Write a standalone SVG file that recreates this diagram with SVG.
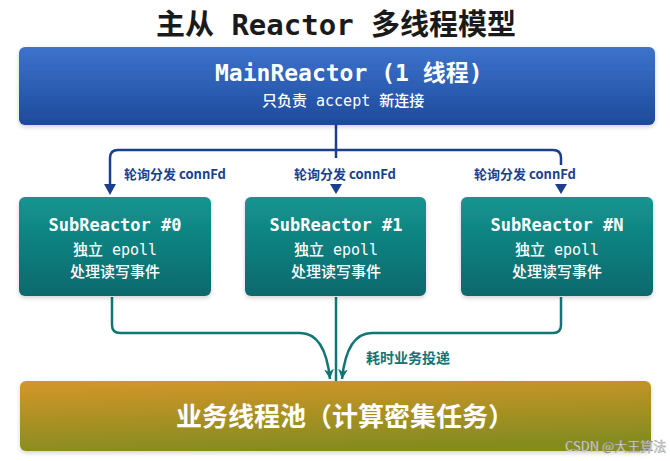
<svg xmlns="http://www.w3.org/2000/svg" width="670" height="461" viewBox="0 0 670 461">
<defs>
<linearGradient id="gMain" x1="0" y1="0" x2="0" y2="1"><stop offset="0" stop-color="#3d73cd"/><stop offset="1" stop-color="#1d4a9b"/></linearGradient>
<linearGradient id="gSub" x1="0" y1="0" x2="0" y2="1"><stop offset="0" stop-color="#149590"/><stop offset="1" stop-color="#0a686c"/></linearGradient>
<linearGradient id="gPool" x1="0" y1="0" x2="0.25" y2="1"><stop offset="0" stop-color="#d5962a"/><stop offset="1" stop-color="#868c1f"/></linearGradient>
<filter id="sh" x="-5%" y="-10%" width="110%" height="130%"><feDropShadow dx="0" dy="2" stdDeviation="2" flood-color="#000" flood-opacity="0.18"/></filter>
<marker id="aTeal" viewBox="0 0 10 12" refX="10" refY="5" markerWidth="10" markerHeight="12" markerUnits="userSpaceOnUse" orient="auto"><path d="M0,0 L10,5 L0,10 L3,5 Z" fill="#127575"/></marker>
</defs>
<style>
.mono{font-family:"DejaVu Sans Mono","Noto Sans CJK SC",monospace;fill:#fff;font-weight:bold}
.sub{font-family:"DejaVu Sans Mono","Noto Sans CJK SC",monospace;fill:#fff;font-weight:500}
.lbl{font-family:"Noto Sans CJK SC","DejaVu Sans",sans-serif;font-weight:bold;font-size:13px;fill:#1b3f8c}
.blue{fill:none;stroke:#1b3f8c;stroke-width:2.5}
.teal{fill:none;stroke:#127575;stroke-width:2.5}
.ah{fill:#1b3f8c}
</style>
<rect width="670" height="461" fill="#ffffff"/>
<text x="336" y="35" text-anchor="middle" font-family="DejaVu Sans Mono,Noto Sans CJK SC,monospace" font-weight="bold" font-size="29" fill="#1a1a1a">主从 Reactor 多线程模型</text>

<g id="connectors">
<path class="blue" d="M336,125 V158"/>
<path class="blue" d="M110,186 V158 Q110,150 118,150 H553 Q561,150 561,158 V165"/>
<path class="ah" d="M104,184 L116,184 L110,195 Z"/>
<path class="ah" d="M330,184 L342,184 L336,194 Z"/>
<path class="ah" d="M555,184 L567,184 L561,194 Z"/>
<text class="lbl" x="124" y="179">轮询分发 connFd</text>
<text class="lbl" x="294" y="179">轮询分发 connFd</text>
<text class="lbl" x="474" y="179">轮询分发  connFd</text>

<path class="teal" d="M112,297 V325 Q112,333 120,333 H300 C318,333 327,350 330,379" marker-end="url(#aTeal)"/>
<path class="teal" d="M336,297 V381"/>
<path class="teal" d="M561,297 V325 Q561,333 553,333 H372 C354,333 345,350 342,379" marker-end="url(#aTeal)"/>
<text x="366" y="363" font-family="Noto Sans CJK SC,sans-serif" font-weight="bold" font-size="14" fill="#127575">耗时业务投递</text>
</g>

<g id="main-reactor">
<rect x="19" y="47" width="636" height="78" rx="6" fill="url(#gMain)" filter="url(#sh)"/>
<text class="mono" x="215" y="81" font-size="23">MainReactor (1 线程)</text>
<text class="sub" x="262" y="106" font-size="15">只负责 accept 新连接</text>
</g>

<g id="sub-reactor-0">
<rect x="19" y="197" width="192" height="99" rx="6" fill="url(#gSub)" filter="url(#sh)"/>
<text class="mono" x="115" y="231" font-size="17" text-anchor="middle">SubReactor #0</text>
<text class="sub" x="115" y="255" font-size="15" text-anchor="middle">独立 epoll</text>
<text class="sub" x="115" y="277" font-size="15" text-anchor="middle">处理读写事件</text>
</g>

<g id="sub-reactor-1">
<rect x="245" y="197" width="181" height="99" rx="6" fill="url(#gSub)" filter="url(#sh)"/>
<text class="mono" x="336" y="231" font-size="17" text-anchor="middle">SubReactor #1</text>
<text class="sub" x="336" y="255" font-size="15" text-anchor="middle">独立 epoll</text>
<text class="sub" x="336" y="277" font-size="15" text-anchor="middle">处理读写事件</text>
</g>

<g id="sub-reactor-n">
<rect x="461" y="197" width="192" height="99" rx="6" fill="url(#gSub)" filter="url(#sh)"/>
<text class="mono" x="557" y="231" font-size="17" text-anchor="middle">SubReactor #N</text>
<text class="sub" x="557" y="255" font-size="15" text-anchor="middle">独立 epoll</text>
<text class="sub" x="557" y="277" font-size="15" text-anchor="middle">处理读写事件</text>
</g>

<g id="worker-pool">
<rect x="20" y="381" width="631" height="70" rx="6" fill="url(#gPool)" filter="url(#sh)"/>
<text x="176" y="426" font-family="Noto Sans CJK SC,sans-serif" font-weight="bold" font-size="26" fill="#ffffff">业务线程池（计算密集任务）</text>
</g>

<text x="565" y="451" font-family="Noto Sans CJK SC,sans-serif" font-size="13" fill="#f0f0f0" stroke="#8a8a8a" stroke-width="0.4">CSDN @大王算法</text>
</svg>
